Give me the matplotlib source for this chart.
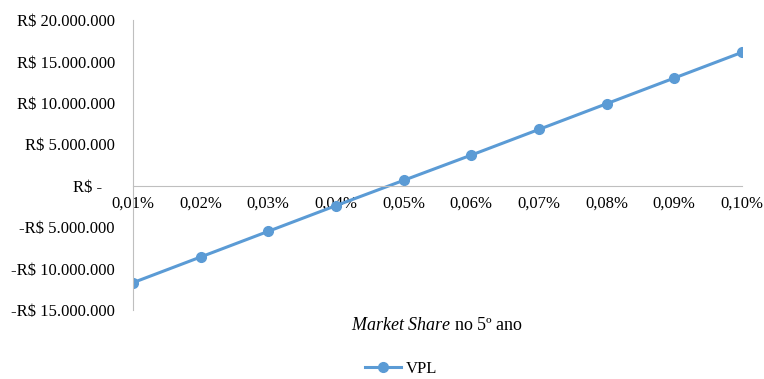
import matplotlib.pyplot as plt

plt.rcParams['font.family'] = ['Liberation Serif', 'DejaVu Serif']
plt.rcParams['mathtext.fontset'] = 'custom'
plt.rcParams['mathtext.it'] = 'Liberation Serif:italic'
plt.rcParams['mathtext.rm'] = 'Liberation Serif'

categories = ["0,01%", "0,02%", "0,03%", "0,04%", "0,05%",
              "0,06%", "0,07%", "0,08%", "0,09%", "0,10%"]
vpl = [-11.7e6, -8.6e6, -5.5e6, -2.4e6, 0.65e6,
       3.7e6, 6.8e6, 9.9e6, 13.0e6, 16.1e6]

y_ticks = [-15e6, -10e6, -5e6, 0, 5e6, 10e6, 15e6, 20e6]
y_labels = ["-R$ 15.000.000", "-R$ 10.000.000", "-R$ 5.000.000", "R$ -   ",
            "R$ 5.000.000", "R$ 10.000.000", "R$ 15.000.000", "R$ 20.000.000"]

color = "#5B9BD5"
grey = "#BFBFBF"

fig = plt.figure(figsize=(7.64, 3.79), dpi=100)
ax = fig.add_axes([0.174, 0.182, 0.797, 0.765])

# spine position first, it resets the ticks
for s in ["top", "right"]:
    ax.spines[s].set_visible(False)
ax.spines["left"].set_color(grey)
ax.spines["bottom"].set_color(grey)
ax.spines["bottom"].set_position(("data", 0))

x = range(len(categories))
ax.plot(x, vpl, color=color, lw=2.2, marker="o", markersize=7, label="VPL")

ax.set_xlim(0, len(categories) - 1)
ax.set_ylim(-15e6, 20e6)
ax.set_xticks(list(x))
ax.set_xticklabels(categories)
ax.set_yticks(y_ticks)
ax.set_yticklabels(y_labels)
ax.tick_params(length=0, labelsize=12)
ax.tick_params(axis="y", pad=13)
ax.tick_params(axis="x", pad=7)

fig.text(0.572, 0.140, r"$\mathit{Market\ Share}$ no 5º ano",
         ha="center", va="center", fontsize=13)

fig.legend(loc="center", bbox_to_anchor=(0.525, 0.026), frameon=False,
           fontsize=12, handlelength=2.2, handletextpad=0.3)

fig.savefig("out.png", dpi=100)
